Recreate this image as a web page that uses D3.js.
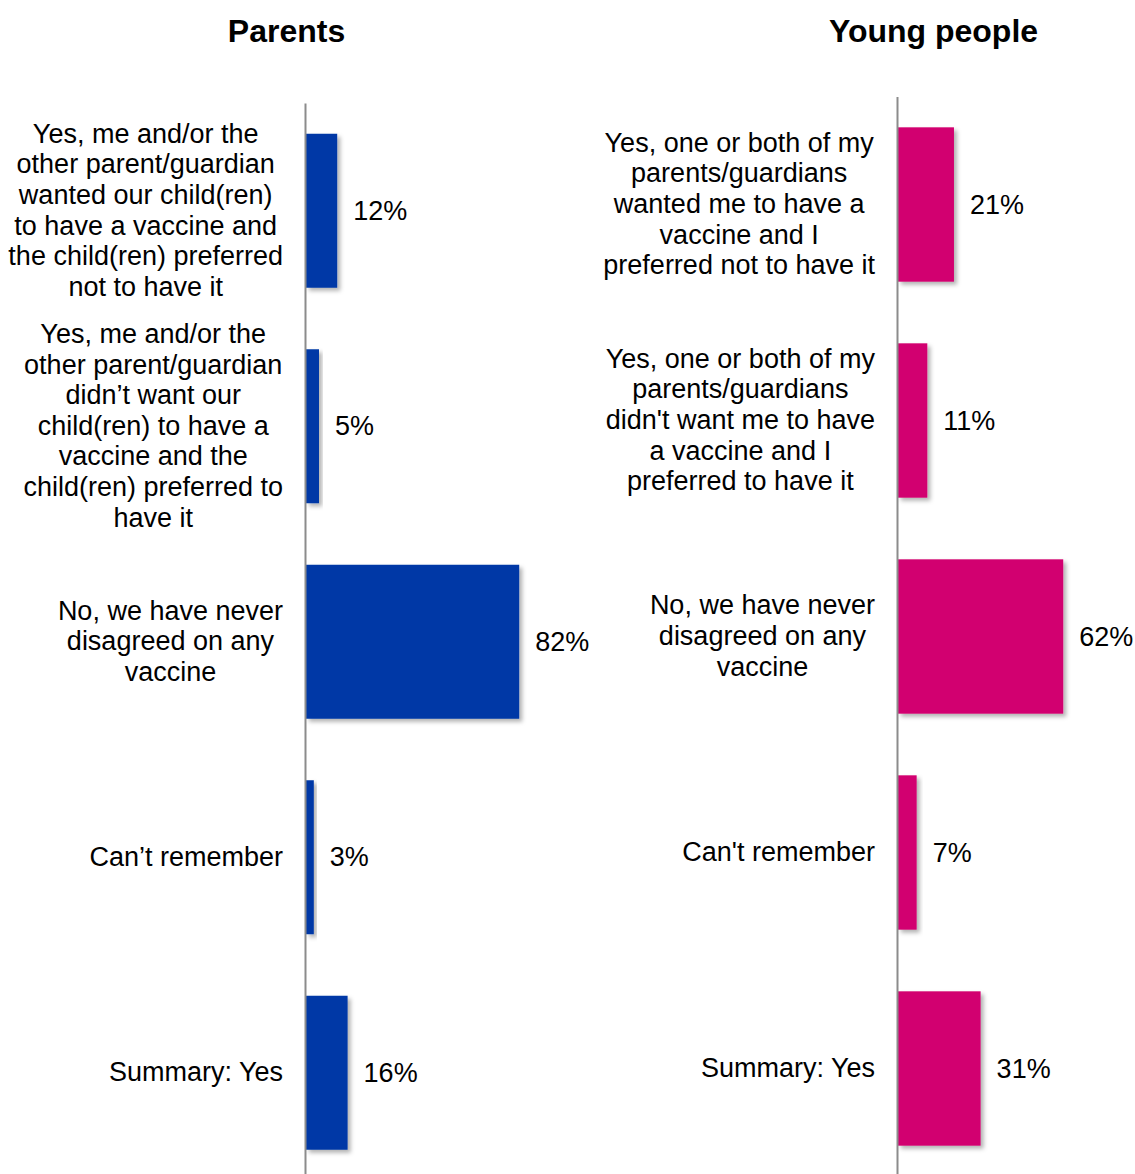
<!DOCTYPE html>
<html>
<head>
<meta charset="utf-8">
<script src="https://cdn.jsdelivr.net/npm/d3@7"></script>
<style>
  html, body { margin: 0; padding: 0; background: #fff; }
  svg { display: block; font-family: "Liberation Sans", Arial, sans-serif; }
</style>
</head>
<body>
<svg id="chart" width="1135" height="1174"></svg>
<script>
// Survey question: disagreement between parents and young people on vaccines
const panelTitles = ["Parents", "Young people"];

const parentCategories = [
  "Yes, me and/or the\nother parent/guardian\nwanted our child(ren)\nto have a vaccine and\nthe child(ren) preferred\nnot to have it",
  "Yes, me and/or the\nother parent/guardian\ndidn’t want our\nchild(ren) to have a\nvaccine and the\nchild(ren) preferred to\nhave it",
  "No, we have never\ndisagreed on any\nvaccine",
  "Can’t remember",
  "Summary: Yes"
];
const parentValues = [12, 5, 82, 3, 16];

const youngCategories = [
  "Yes, one or both of my\nparents/guardians\nwanted me to have a\nvaccine and I\npreferred not to have it",
  "Yes, one or both of my\nparents/guardians\ndidn't want me to have\na vaccine and I\npreferred to have it",
  "No, we have never\ndisagreed on any\nvaccine",
  "Can't remember",
  "Summary: Yes"
];
const youngValues = [21, 11, 62, 7, 31];

const panelColors = ["#0038A6", "#D2006F"];

const svg = d3.select("#chart");

// soft drop shadow under each bar
const defs = svg.append("defs");
const f = defs.append("filter").attr("id", "barShadow")
  .attr("x", "-20%").attr("y", "-10%").attr("width", "150%").attr("height", "130%");
f.append("feDropShadow").attr("dx", 3).attr("dy", 3)
  .attr("stdDeviation", 2).attr("flood-color", "#000").attr("flood-opacity", 0.3);

const panels = [
  { title: panelTitles[0], titleX: 286.5, cats: parentCategories, vals: parentValues,
    color: panelColors[0], axisX: 306, xMax: 566, yTop: 103, step: 215.5 },
  { title: panelTitles[1], titleX: 933.5, cats: youngCategories, vals: youngValues,
    color: panelColors[1], axisX: 898, xMax: 1164.5, yTop: 96.5, step: 216 }
];

const fontSize = 27, lineH = 30.6;

panels.forEach(p => {
  const n = p.cats.length;
  const y = d3.scaleBand()
    .domain(p.cats)
    .range([p.yTop, p.yTop + p.step * n])
    .paddingInner(0.2854)
    .paddingOuter(0.1427);
  const x = d3.scaleLinear().domain([0, 100]).range([p.axisX, p.xMax]);

  const g = svg.append("g");

  // panel title
  g.append("text")
    .attr("x", p.titleX).attr("y", 42)
    .attr("text-anchor", "middle")
    .attr("font-weight", "bold")
    .attr("font-size", 32)
    .attr("fill", "#000")
    .text(p.title);

  // bars
  g.selectAll("rect.bar")
    .data(p.cats.map((c, i) => ({ c, v: p.vals[i] })))
    .join("rect")
    .attr("class", "bar")
    .attr("x", x(0))
    .attr("y", d => y(d.c))
    .attr("width", d => x(d.v) - x(0))
    .attr("height", y.bandwidth())
    .attr("fill", p.color)
    .attr("filter", "url(#barShadow)");

  // category axis: plain vertical line, labels drawn separately
  const axis = g.append("g")
    .attr("transform", `translate(${p.axisX - 1},0)`)
    .call(d3.axisLeft(y).tickSize(0).tickSizeOuter(0).tickFormat(""));
  axis.select(".domain").attr("stroke", "#8c8c8c").attr("stroke-width", 2);
  axis.selectAll(".tick").remove();

  // value labels
  g.selectAll("text.val")
    .data(p.cats.map((c, i) => ({ c, v: p.vals[i] })))
    .join("text")
    .attr("class", "val")
    .attr("x", d => x(d.v) + 16)
    .attr("y", d => y(d.c) + y.bandwidth() / 2 + 9)
    .attr("font-size", fontSize)
    .attr("fill", "#000")
    .text(d => d.v + "%");

  // wrapped category labels: lines centred on each other, block right-aligned to the axis
  const labelRight = p.axisX - 23;
  p.cats.forEach(c => {
    const lines = c.split("\n");
    const lg = g.append("g");
    const cy = y(c) + y.bandwidth() / 2;
    const texts = lines.map((ln, k) =>
      lg.append("text")
        .attr("x", 0)
        .attr("y", cy + (k - (lines.length - 1) / 2) * lineH + 8.5)
        .attr("text-anchor", "middle")
        .attr("font-size", fontSize)
        .attr("fill", "#000")
        .text(ln));
    const maxW = d3.max(texts, t => t.node().getComputedTextLength());
    lg.attr("transform", `translate(${labelRight - maxW / 2},0)`);
  });
});
</script>
</body>
</html>
